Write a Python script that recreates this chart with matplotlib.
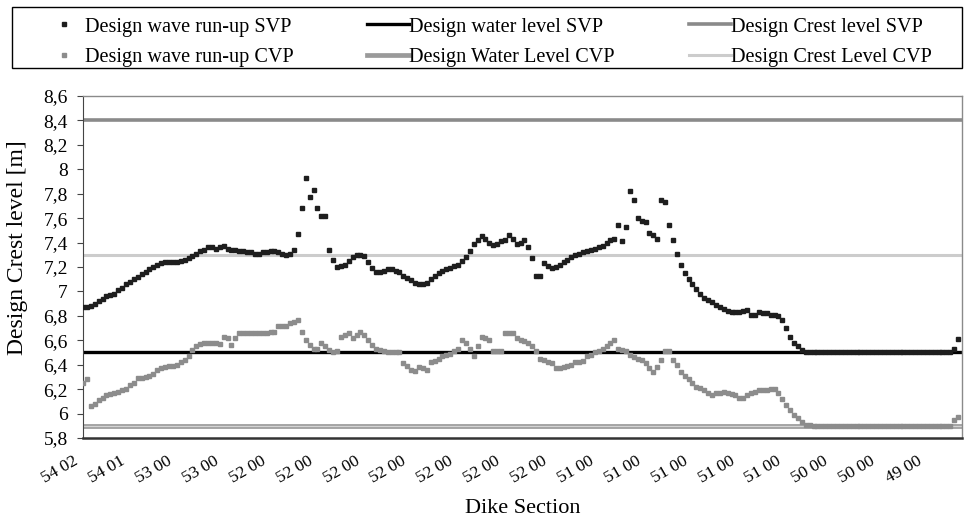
import matplotlib.pyplot as plt
from matplotlib.patches import Rectangle
from matplotlib.transforms import ScaledTranslation
import numpy as np

plt.rcParams['font.family'] = 'Liberation Serif'

# design wave run-up per dike section
runup_svp = [
    6.87, 6.87, 6.88, 6.90, 6.92, 6.94, 6.96, 6.97, 6.98, 7.01,
    7.03, 7.06, 7.08, 7.10, 7.12, 7.14, 7.16, 7.18, 7.20, 7.22,
    7.23, 7.24, 7.24, 7.24, 7.24, 7.25, 7.26, 7.27, 7.29, 7.31,
    7.33, 7.34, 7.36, 7.36, 7.35, 7.36, 7.37, 7.35, 7.34, 7.34,
    7.33, 7.33, 7.32, 7.32, 7.31, 7.31, 7.32, 7.32, 7.33, 7.33,
    7.32, 7.31, 7.30, 7.31, 7.34, 7.47, 7.68, 7.93, 7.77, 7.83,
    7.68, 7.62, 7.62, 7.34, 7.26, 7.20, 7.21, 7.22, 7.25, 7.28,
    7.30, 7.30, 7.29, 7.24, 7.19, 7.16, 7.16, 7.17, 7.18, 7.18,
    7.17, 7.16, 7.13, 7.11, 7.09, 7.07, 7.06, 7.06, 7.07, 7.10,
    7.13, 7.15, 7.17, 7.18, 7.19, 7.21, 7.22, 7.25, 7.28, 7.33,
    7.39, 7.42, 7.45, 7.43, 7.40, 7.38, 7.39, 7.41, 7.42, 7.46,
    7.43, 7.39, 7.40, 7.42, 7.36, 7.27, 7.13, 7.13, 7.23, 7.21,
    7.19, 7.20, 7.22, 7.24, 7.26, 7.28, 7.30, 7.31, 7.32, 7.33,
    7.34, 7.35, 7.36, 7.37, 7.40, 7.42, 7.43, 7.54, 7.41, 7.53,
    7.82, 7.75, 7.60, 7.58, 7.57, 7.48, 7.46, 7.43, 7.75, 7.73,
    7.54, 7.42, 7.31, 7.22, 7.15, 7.10, 7.06, 7.02, 6.98, 6.95,
    6.93, 6.91, 6.89, 6.87, 6.86, 6.84, 6.83, 6.83, 6.83, 6.84,
    6.85, 6.81, 6.81, 6.83, 6.82, 6.82, 6.81, 6.81, 6.80, 6.77,
    6.70, 6.63, 6.58, 6.55, 6.52, 6.50, 6.50, 6.50, 6.50, 6.50,
    6.50, 6.50, 6.50, 6.50, 6.50, 6.50, 6.50, 6.50, 6.50, 6.50,
    6.50, 6.50, 6.50, 6.50, 6.50, 6.50, 6.50, 6.50, 6.50, 6.50,
    6.50, 6.50, 6.50, 6.50, 6.50, 6.50, 6.50, 6.50, 6.50, 6.50,
    6.50, 6.50, 6.50, 6.53, 6.61,
]
runup_cvp = [
    6.25, 6.28, 6.06, 6.08, 6.11, 6.13, 6.15, 6.16, 6.17, 6.18,
    6.19, 6.20, 6.23, 6.25, 6.29, 6.29, 6.30, 6.31, 6.32, 6.36,
    6.37, 6.38, 6.39, 6.39, 6.40, 6.42, 6.44, 6.47, 6.52, 6.55,
    6.57, 6.58, 6.58, 6.58, 6.58, 6.57, 6.63, 6.62, 6.56, 6.62,
    6.66, 6.66, 6.66, 6.66, 6.66, 6.66, 6.66, 6.66, 6.67, 6.67,
    6.72, 6.72, 6.72, 6.74, 6.75, 6.77, 6.67, 6.60, 6.56, 6.53,
    6.53, 6.58, 6.55, 6.52, 6.50, 6.51, 6.63, 6.64, 6.66, 6.62,
    6.64, 6.67, 6.64, 6.60, 6.56, 6.53, 6.52, 6.51, 6.50, 6.50,
    6.50, 6.50, 6.41, 6.39, 6.36, 6.35, 6.38, 6.37, 6.36, 6.42,
    6.43, 6.45, 6.47, 6.48, 6.49, 6.51, 6.53, 6.60, 6.58, 6.53,
    6.47, 6.55, 6.63, 6.62, 6.60, 6.51, 6.51, 6.51, 6.66, 6.66,
    6.66, 6.62, 6.60, 6.59, 6.58, 6.55, 6.51, 6.45, 6.44, 6.42,
    6.41, 6.37, 6.37, 6.38, 6.39, 6.40, 6.42, 6.42, 6.43, 6.47,
    6.48, 6.50, 6.51, 6.53, 6.55, 6.58, 6.60, 6.53, 6.52, 6.51,
    6.48, 6.46, 6.45, 6.44, 6.41, 6.37, 6.34, 6.38, 6.44, 6.51,
    6.51, 6.44, 6.40, 6.34, 6.31, 6.28, 6.25, 6.22, 6.21, 6.19,
    6.17, 6.15, 6.17, 6.17, 6.18, 6.17, 6.16, 6.15, 6.13, 6.13,
    6.15, 6.17, 6.18, 6.19, 6.19, 6.19, 6.20, 6.20, 6.17, 6.12,
    6.07, 6.03, 5.99, 5.96, 5.93, 5.91, 5.91, 5.90, 5.90, 5.90,
    5.90, 5.90, 5.90, 5.90, 5.90, 5.90, 5.90, 5.90, 5.90, 5.90,
    5.90, 5.90, 5.90, 5.90, 5.90, 5.90, 5.90, 5.90, 5.90, 5.90,
    5.90, 5.90, 5.90, 5.90, 5.90, 5.90, 5.90, 5.90, 5.90, 5.90,
    5.90, 5.90, 5.90, 5.95, 5.97,
]

water_svp = 6.5
crest_svp = 8.4
water_cvp = 5.9
crest_cvp = 7.3

section_labels = ["54 02", "54 01", "53 00", "53 00", "52 00", "52 00", "52 00",
                  "52 00", "52 00", "52 00", "52 00", "51 00", "51 00", "51 00",
                  "51 00", "51 00", "50 00", "50 00", "49 00"]
label_step = 12

x = np.arange(len(runup_svp))

fig = plt.figure(figsize=(9.69, 5.22), dpi=100)
ax = fig.add_axes([0.0857, 0.161, 0.9071, 0.655])

h_crest_svp = ax.axhline(crest_svp, color='#8a8a8a', lw=2.6, zorder=2)
h_crest_cvp = ax.axhline(crest_cvp, color='#cccccc', lw=2.2, zorder=2)
h_water_svp = ax.axhline(water_svp, color='black', lw=2.4, zorder=2)
h_water_cvp = ax.axhline(water_cvp, color='#9a9a9a', lw=3.4, zorder=2)
ax.axhline(water_cvp, color='#d4d4d4', lw=1.0, zorder=2)

h_svp, = ax.plot(x, runup_svp, ls='none', marker='s', ms=2.6, color='#1e1e1e', zorder=4)
h_cvp, = ax.plot(x, runup_cvp, ls='none', marker='s', ms=2.2, color='#8c8c8c', mec='#8c8c8c', zorder=3)

ax.set_xlim(0, len(runup_svp))
ax.set_ylim(5.8, 8.6)

yt = np.round(np.arange(5.8, 8.61, 0.2), 1)
ax.set_yticks(yt)
ax.set_yticklabels([f"{v:g}".replace('.', ',') for v in yt], fontsize=14)
ax.tick_params(axis='y', length=4, width=0.8, color='#444444', pad=7)

ax.set_xticks(np.arange(len(section_labels)) * label_step)
ax.set_xticklabels(section_labels, rotation=30, ha='right', va='top',
                   rotation_mode='anchor', fontsize=12.5)
ax.tick_params(axis='x', length=0, pad=11)
shift = ScaledTranslation(-0.10, 0, fig.dpi_scale_trans)
for lab in ax.get_xticklabels():
    lab.set_transform(lab.get_transform() + shift)

ax.set_ylabel("Design Crest level [m]", fontsize=17)
ax.yaxis.set_label_coords(-0.063, 0.558)
ax.set_xlabel("Dike Section", fontsize=16, labelpad=9)

for side in ['top', 'right']:
    ax.spines[side].set_color('#8a8a8a')
    ax.spines[side].set_linewidth(1.0)
ax.spines['left'].set_color('#444444')
ax.spines['bottom'].set_color('#333333')
ax.spines['bottom'].set_linewidth(1.8)

# legend box across the top
fig.patches.append(Rectangle((0.0124, 0.8697), 0.980, 0.1169, transform=fig.transFigure,
                             fill=False, edgecolor='black', lw=1.0))

handles = [h_svp, h_cvp, h_water_svp, h_water_cvp, h_crest_svp, h_crest_cvp]
labels = ["Design wave run-up SVP", "Design wave run-up CVP",
          "Design water level SVP", "Design Water Level CVP",
          "Design Crest level SVP", "Design Crest Level CVP"]
fig.legend(handles, labels, loc='center', bbox_to_anchor=(0.5026, 0.9195),
           ncol=3, fontsize=14.6, frameon=False, handlelength=2.07,
           handletextpad=0.0, columnspacing=3.65, labelspacing=0.54,
           borderpad=0, markerscale=1.2)

fig.savefig('out.png', dpi=100)
